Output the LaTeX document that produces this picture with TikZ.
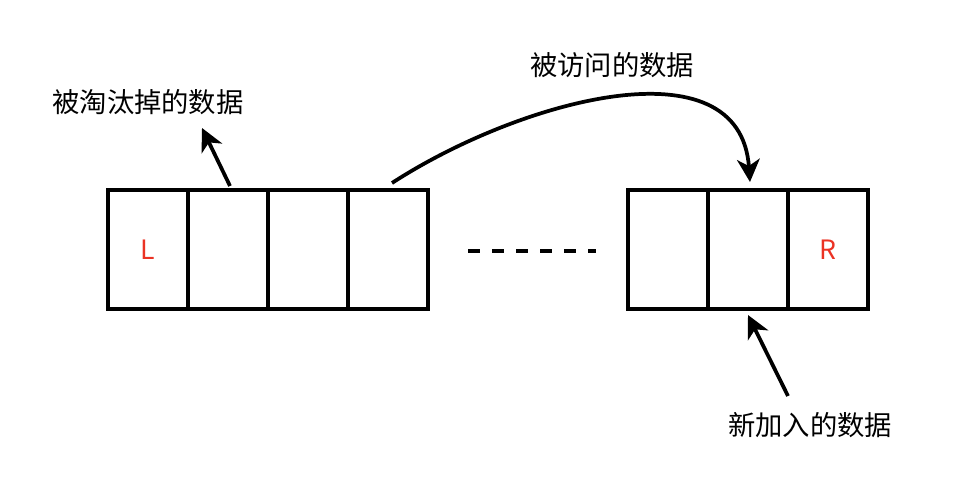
\documentclass[tikz,border=0pt]{standalone}
\usepackage{fontspec}
\setmainfont{Noto Sans CJK SC}
\usetikzlibrary{positioning,arrows.meta}
\definecolor{markred}{RGB}{235,51,36}

\begin{document}
\begin{tikzpicture}[
        x=0.75pt, y=-0.75pt,
        cell/.style={draw, line width=3pt, minimum width=60pt, minimum height=89.25pt, outer sep=0pt, inner sep=0pt, font=\fontsize{20}{24}\selectfont, text=markred},
        tag/.style={font=\fontsize{20.5}{24}\selectfont},
        pointer/.style={line width=2.8pt, -{Stealth[length=17pt,width=17pt,inset=5pt]}},
        node distance=0pt
    ]
    \useasboundingbox (0,0) rectangle (954,488);
    % left end of the list
    \node[cell] (c1) at (148,249.5) {\raisebox{-1.5pt}{L}};
    \node[cell, right=of c1] (c2) {};
    \node[cell, right=of c2] (c3) {};
    \node[cell, right=of c3] (c4) {};
    % right end of the list
    \node[cell] (r1) at (668,249.5) {};
    \node[cell, right=of r1] (r2) {};
    \node[cell, right=of r2] (r3) {R};
    % labels
    \node[tag] (evict) at (148,102) {被淘汰掉的数据};
    \node[tag] (visit) at (612,65) {被访问的数据};
    \node[tag] (fresh) at (810,425) {新加入的数据};
    \coordinate (evicttip) at (202,128);
    \coordinate (freshtail) at (788,396);
    % arrows
    \draw[pointer] ([shift={(2,-4)}]c2.north) -- (evicttip);
    \draw[pointer] ([shift={(4,-7)}]c4.north) .. controls (520,100) and (740,40) .. ([shift={(2,-8)}]r2.north);
    \draw[pointer] (freshtail) -- ([shift={(0,6)}]r2.south);
    \draw[line width=2.8pt, dash pattern=on 9pt off 9pt] ([shift={(40,1.5)}]c4.east) -- ([shift={(-32,1.5)}]r1.west);
\end{tikzpicture}
\end{document}
